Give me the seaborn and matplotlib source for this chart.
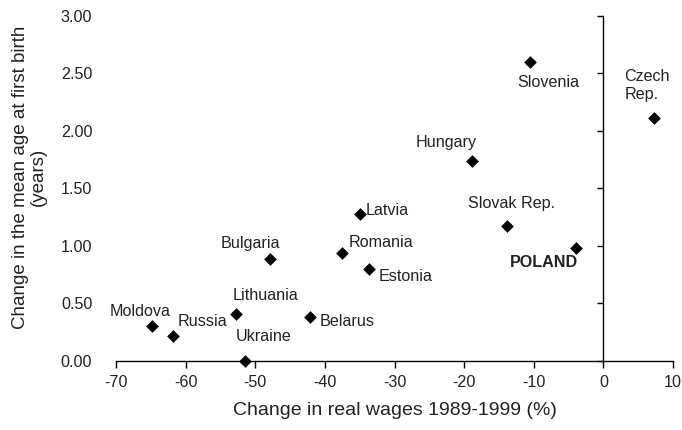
import pandas as pd
import seaborn as sns
import matplotlib.pyplot as plt

# values
countries = ['Moldova', 'Russia', 'Lithuania', 'Ukraine', 'Bulgaria', 'Belarus',
             'Romania', 'Estonia', 'Latvia', 'Slovak Rep.', 'POLAND', 'Hungary',
             'Slovenia', 'Czech\nRep.']
wage_change = [-64.8, -61.8, -52.7, -51.5, -47.9, -42.2,
               -37.6, -33.6, -35.0, -13.8, -3.95, -18.9,
               -10.5, 7.3]
age_change = [0.30, 0.22, 0.41, 0.00, 0.89, 0.38,
              0.94, 0.80, 1.28, 1.17, 0.98, 1.74,
              2.60, 2.11]
xticks = [-70, -60, -50, -40, -30, -20, -10, 0, 10]
yticks = [0.0, 0.5, 1.0, 1.5, 2.0, 2.5, 3.0]

df = pd.DataFrame({'country': countries, 'wages': wage_change, 'age': age_change})

sns.set_theme(style='white')
plt.rcParams['font.family'] = ['Liberation Sans', 'DejaVu Sans']

fig = plt.figure(figsize=(6.82, 4.30), dpi=100)
ax = fig.add_axes([0.170, 0.1605, 0.817, 0.8023])

sns.scatterplot(data=df, x='wages', y='age', marker='D', color='black',
                s=42, linewidth=0, ax=ax, zorder=3, clip_on=False)

ax.set_xlim(-70, 10)
ax.set_ylim(0, 3)
ax.set_xticks(xticks)
ax.set_xticklabels([str(t) for t in xticks], fontsize=11.6, color='#222222')
ax.set_yticks(yticks)

# y axis drawn through x = 0, labels kept at the left edge
ax.spines['left'].set_position(('data', 0))
ax.spines['top'].set_visible(False)
ax.spines['right'].set_visible(False)
for s in ['left', 'bottom']:
    ax.spines[s].set_color('black')
    ax.spines[s].set_linewidth(1.0)
ax.tick_params(axis='y', direction='out', length=4.5, width=1.0, color='black',
               left=True, labelleft=False)
ax.tick_params(axis='x', direction='out', length=5, width=1.0, color='black',
               bottom=True, pad=5)

lab = ax.twinx()
lab.set_ylim(0, 3)
lab.set_yticks(yticks)
lab.set_yticklabels([f'{t:.2f}' for t in yticks], fontsize=11.6, color='#222222')
lab.yaxis.set_ticks_position('left')
lab.yaxis.set_label_position('left')
lab.tick_params(axis='y', length=0, pad=17)
for s in lab.spines.values():
    s.set_visible(False)
lab.set_ylabel('Change in the mean age at first birth\n(years)', fontsize=13.5,
               color='#222222', linespacing=1.05)
lab.yaxis.set_label_coords(-0.124, 0.533)

ax.set_xlabel('Change in real wages 1989-1999 (%)', fontsize=14,
              color='#222222', labelpad=9)
ax.set_ylabel('')

# label offsets (pixels) and alignment per country
offsets = {
    'Moldova': (-12, 15, 'center'),
    'Russia': (29, 14, 'center'),
    'Lithuania': (29, 18, 'center'),
    'Ukraine': (19, 24, 'center'),
    'Bulgaria': (-19, 15, 'center'),
    'Belarus': (10, -4, 'left'),
    'Romania': (7, 10, 'left'),
    'Estonia': (9, -8, 'left'),
    'Latvia': (6, 3, 'left'),
    'Slovak Rep.': (4, 23, 'center'),
    'POLAND': (2, -14, 'right'),
    'Hungary': (-26, 18, 'center'),
    'Slovenia': (18, -21, 'center'),
    'Czech\nRep.': (-30, 33, 'left'),
}
for name, x, y in zip(countries, wage_change, age_change):
    dx, dy, ha = offsets[name]
    ax.annotate(name, (x, y), xytext=(dx, dy), textcoords='offset pixels',
                ha=ha, va='center', fontsize=11.6, color='#222222',
                fontweight='bold' if name == 'POLAND' else 'normal',
                linespacing=1.3)

fig.savefig('out.png', dpi=100)
